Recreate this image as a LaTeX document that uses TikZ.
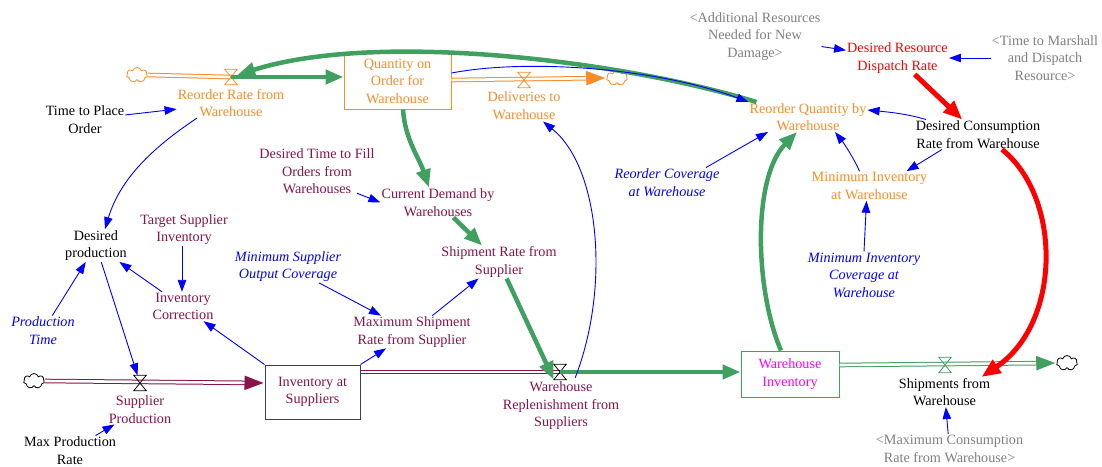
\documentclass[tikz,border=0pt]{standalone}
\usepackage{fontspec}
\setmainfont{Liberation Serif}
\usetikzlibrary{arrows.meta,calc,shapes.symbols}
\definecolor{vorange}{RGB}{250,140,40}
\definecolor{vmaroon}{RGB}{135,20,75}
\definecolor{vgreen}{RGB}{64,160,96}
\definecolor{vblue}{RGB}{0,0,255}
\definecolor{vgray}{RGB}{128,128,128}
\definecolor{vred}{RGB}{255,0,0}
\definecolor{vmagenta}{RGB}{255,0,255}
\begin{document}
\begin{tikzpicture}[x=1pt,y=-1pt,
  lbl/.style={align=center, inner sep=1pt, font=\fontsize{14.2}{17.5}\selectfont},
  lblit/.style={lbl, font=\fontsize{14.2}{17.5}\selectfont\itshape, text=vblue},
  stock/.style={lbl, draw, line width=1pt, inner sep=0pt},
  link/.style={vblue, line width=0.9pt, -{Triangle[length=12pt,width=8.5pt]}},
  thickgreen/.style={vgreen, line width=4.5pt, -{Triangle[length=18pt,width=14pt]}},
  thickred/.style={vred, line width=5pt, -{Triangle[length=19pt,width=15pt]}},
  pipe/.style={draw=#1, line width=4.6pt, postaction={draw=white, line width=2.6pt}},
  pipeto/.style={draw=#1, line width=4.6pt, -{Triangle[length=20pt,width=13pt]},
    postaction={draw=white, line width=2.6pt, -, shorten >=20pt}},
  valvebox/.style={inner sep=0pt, minimum width=12pt, minimum height=15pt},
  cloudnode/.style={cloud, cloud puffs=7, cloud ignores aspect, draw=#1, line width=0.8pt,
    minimum width=21pt, minimum height=15pt, inner sep=0pt}
]
\useasboundingbox[fill=white] (0,0) rectangle (1102,466);

% ---- stocks ----
\node[stock, draw=vorange, text=vorange, minimum width=107pt, minimum height=56pt] (quantity) at (397.5,81) {Quantity on\\Order for\\Warehouse};
\node[stock, draw=black!75, text=vmaroon, minimum width=95pt, minimum height=54pt] (invSup) at (312.5,392) {Inventory at\\Suppliers};
\node[stock, draw=vgreen, text=vmagenta, minimum width=98pt, minimum height=46pt] (whInv) at (790,374) {Warehouse\\Inventory};

% ---- sources and sinks ----
\node[cloudnode=vorange] (rrCloud) at (137,75) {};
\node[cloudnode=vorange] (delCloud) at (617,78) {};
\node[cloudnode=black] (spCloud) at (34,381) {};
\node[cloudnode=black] (shCloud) at (1067,363) {};

% ---- valve positions ----
\node[valvebox] (rrValve) at (231,77) {};
\node[valvebox] (delValve) at (524,80) {};
\node[valvebox] (spValve) at (140,383) {};
\node[valvebox] (wrValve) at (560,372) {};
\node[valvebox] (shValve) at (945,365) {};

% ---- variables ----
\node[lbl, text=vorange] (reorderRate) at (231,103) {Reorder Rate from\\Warehouse};
\node[lbl] (timePlace) at (85,119.5) {Time to Place\\Order};
\node[lbl, text=vorange] (deliveries) at (524,105.5) {Deliveries to\\Warehouse};
\node[lbl, text=vgray] (additional) at (755,36.5) {<Additional Resources\\Needed for New\\Damage>};
\node[lbl, text=vred] (dispatch) at (897.5,58) {Desired Resource\\Dispatch Rate};
\node[lbl, text=vgray] (marshall) at (1045,58) {<Time to Marshall\\and Dispatch\\Resource>};
\node[lbl, text=vorange] (reorderQty) at (808,117) {Reorder Quantity by\\Warehouse};
\node[lbl] (desiredCons) at (978,134.5) {Desired Consumption\\Rate from Warehouse};
\node[lblit] (reorderCov) at (667,182.5) {Reorder Coverage\\at Warehouse};
\node[lbl, text=vorange] (minInv) at (869.5,186) {Minimum Inventory\\at Warehouse};
\node[lblit] (minInvCov) at (864,275) {Minimum Inventory\\Coverage at\\Warehouse};
\node[lbl, text=vmaroon] (fillTime) at (317,171.5) {Desired Time to Fill\\Orders from\\Warehouses};
\node[lbl, text=vmaroon] (demand) at (438,202.5) {Current Demand by\\Warehouses};
\node[lbl, text=vmaroon] (shipRate) at (499,262) {Shipment Rate from\\Supplier};
\node[lbl, text=vmaroon] (targetSup) at (184,229.5) {Target Supplier\\Inventory};
\node[lbl] (desiredProd) at (96,245.5) {Desired\\production};
\node[lblit] (minSupCov) at (288,266.5) {Minimum Supplier\\Output Coverage};
\node[lbl, text=vmaroon] (invCorr) at (183,306.5) {Inventory\\Correction};
\node[lblit] (prodTime) at (43,330.5) {Production\\Time};
\node[lbl, text=vmaroon] (maxShip) at (412,332) {Maximum Shipment\\Rate from Supplier};
\node[lbl, text=vmaroon] (supProd) at (140,409.5) {Supplier\\Production};
\node[lbl] (maxProd) at (70,450.5) {Max Production\\Rate};
\node[lbl, text=vmaroon] (whRepl) at (561,406) {Warehouse\\Replenishment from\\Suppliers};
\node[lbl] (shipments) at (944.5,392) {Shipments from\\Warehouse};
\node[lbl, text=vgray] (maxCons) at (949.5,449) {<Maximum Consumption\\Rate from Warehouse>};

% ---- pipes ----
\draw[pipe=vorange] (rrCloud.east) -- (rrValve.center);
\draw[pipeto=vorange] ($(quantity.east)+(0,-1)$) -- (delCloud.west);
\draw[pipeto=vmaroon] (spCloud.east) -- ($(invSup.west)+(0,-9)$);
\draw[pipe=vmaroon] ($(invSup.east)+(0,-20)$) -- (wrValve.center);
\draw[pipeto=vgreen] ($(whInv.east)+(0,-9)$) -- (shCloud.west);

% ---- valve glyphs ----
\foreach \v/\c in {rrValve/vorange, delValve/vorange, spValve/black, wrValve/black, shValve/vgreen}
  \draw[draw=\c, line width=0.8pt] (\v.north west) -- (\v.north east) -- (\v.south west) -- (\v.south east) -- cycle;

% ---- material flows (green) ----
\draw[thickgreen] (rrValve.center) -- ($(quantity.west)+(0,-4)$);
\draw[thickgreen] (wrValve.center) -- ($(whInv.west)+(0,-2)$);

% ---- strong links ----
\draw[thickgreen] ($(reorderQty.north west)+(8,0)$) .. controls +(-130,-40) and +(149,-47) .. (rrValve);
\draw[thickgreen] ($(quantity.south)+(5.5,0)$) .. controls +(2,30) and +(-10,-30) .. ($(demand.north)+(-9,0)$);
\draw[thickgreen] (demand) -- (shipRate);
\draw[thickgreen] (shipRate) -- (wrValve.south west);
\draw[thickgreen] ($(whInv.north)+(-9,0)$) .. controls +(-26,-60) and +(-45,46) .. ($(reorderQty.south)+(-11,0)$);
\draw[thickred] (dispatch) -- (desiredCons);
\draw[thickred] ($(desiredCons.south)+(24,0)$) .. controls +(60,48) and +(80,-54) .. ($(shipments.north)+(37,0)$);

% ---- information links ----
\draw[link] (timePlace) -- (reorderRate);
\draw[link] ($(reorderRate.south)+(-34,0)$) .. controls +(-45,30) and +(15,-50) .. ($(desiredProd.north)+(9,0)$);
\draw[link] ($(targetSup.south)+(-2,0)$) -- ($(invCorr.north)+(-1,0)$);
\draw[link] (invCorr) -- (desiredProd);
\draw[link] (prodTime) -- (desiredProd);
\draw[link] (desiredProd) -- (spValve);
\draw[link] (maxProd) -- (supProd);
\draw[link] (invSup.north west) -- (invCorr);
\draw[link] (invSup.north east) -- (maxShip);
\draw[link] (minSupCov) -- (maxShip);
\draw[link] (maxShip) -- (shipRate);
\draw[link] ($(fillTime.south)+(40,-2)$) -- (demand.west);
\draw[link] ($(wrValve.south east)+(9,-2)$) .. controls +(35,-90) and +(57,46) .. ($(deliveries.south)+(19,1)$);
\draw[link] ($(quantity.east)+(0,-8)$) .. controls +(79,-15) and +(-88,-33) .. (reorderQty.north west);
\draw[link] (additional) -- (dispatch);
\draw[link] (marshall) -- (dispatch);
\draw[link] ($(desiredCons.north)+(-52,0)$) .. controls +(-20,-6) and +(20,2) .. ($(reorderQty.east)+(0,-7)$);
\draw[link] ($(desiredCons.south)+(-36,0)$) -- ($(minInv.north)+(37,0)$);
\draw[link] ($(minInv.north)+(-10,0)$) .. controls +(-5,-12) and +(8,10) .. ($(reorderQty.south)+(27,0)$);
\draw[link] ($(reorderCov.north)+(39,0)$) -- ($(reorderQty.south)+(-40,0)$);
\draw[link] (minInvCov.north) -- ($(minInv.south)+(-3,0)$);
\draw[link] (maxCons) -- (shipments);
\end{tikzpicture}
\end{document}
